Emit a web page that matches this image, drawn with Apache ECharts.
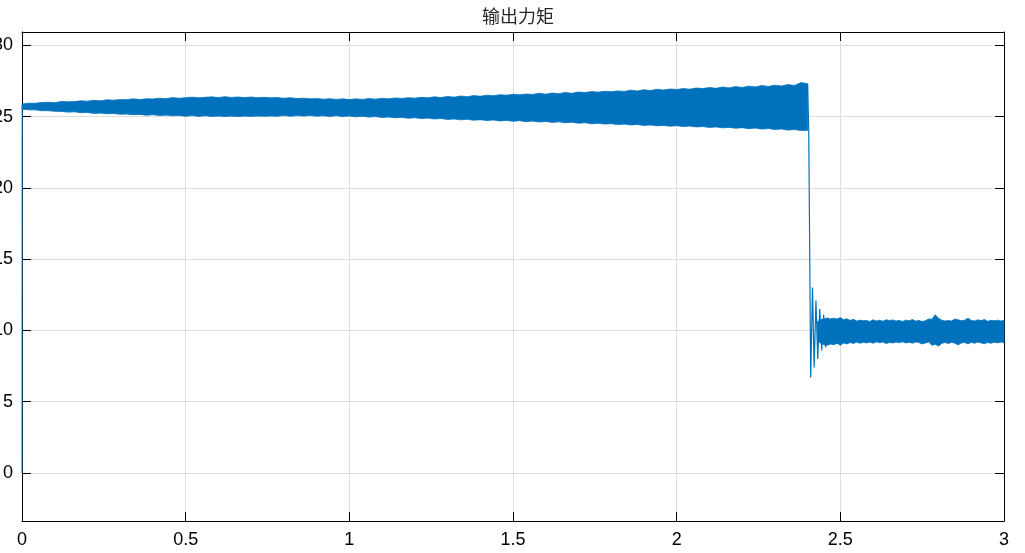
<!DOCTYPE html>
<html><head><meta charset="utf-8">
<script src="https://cdn.jsdelivr.net/npm/echarts@6/dist/echarts.min.js"></script>
<style>html,body{margin:0;padding:0;background:#fff}#c{width:1025px;height:553px}</style>
</head><body><div id="c"></div>
<script>
// ---- data ----
const chartTitle = '输出力矩';
const xMin = 0, xMax = 3, xInterval = 0.5;
const yMin = -3.37, yMax = 30.93;

// start-up transient (t, value)
const startT = [0, 0.0006];
const startV = [0, 25.7];

// band before the load change: envelope sampled every 0.02 s from t = 0
const band1Start = 0, band1Step = 0.02;
const band1Upper = [
  25.88, 25.94, 25.93, 25.99, 26.00, 25.97, 26.06, 26.03, 26.05, 26.10,
  26.08, 26.14, 26.10, 26.17, 26.15, 26.19, 26.18, 26.24, 26.19, 26.25,
  26.23, 26.29, 26.25, 26.33, 26.28, 26.32, 26.36, 26.31, 26.35, 26.38,
  26.33, 26.39, 26.34, 26.37, 26.33, 26.37, 26.32, 26.35, 26.31, 26.33,
  26.28, 26.32, 26.26, 26.29, 26.24, 26.26, 26.22, 26.25, 26.20, 26.24,
  26.19, 26.24, 26.20, 26.26, 26.22, 26.28, 26.24, 26.30, 26.27, 26.32,
  26.29, 26.35, 26.31, 26.38, 26.33, 26.41, 26.36, 26.44, 26.39, 26.47,
  26.42, 26.50, 26.46, 26.53, 26.50, 26.56, 26.52, 26.58, 26.55, 26.63,
  26.57, 26.65, 26.60, 26.69, 26.63, 26.72, 26.68, 26.75, 26.71, 26.77,
  26.74, 26.80, 26.76, 26.85, 26.79, 26.88, 26.82, 26.91, 26.86, 26.93,
  26.90, 26.96, 26.92, 27.00, 26.96, 27.04, 26.98, 27.07, 27.01, 27.10,
  27.04, 27.13, 27.08, 27.17, 27.11, 27.20, 27.14, 27.24, 27.18, 27.38,
  27.30
];
const band1Lower = [
  25.52, 25.47, 25.47, 25.41, 25.41, 25.37, 25.36, 25.31, 25.33, 25.27,
  25.28, 25.22, 25.24, 25.19, 25.21, 25.16, 25.17, 25.13, 25.15, 25.09,
  25.13, 25.07, 25.10, 25.05, 25.08, 25.02, 25.07, 25.01, 25.06, 25.00,
  25.04, 25.01, 25.03, 25.00, 25.03, 25.01, 25.04, 25.02, 25.04, 25.02,
  25.07, 25.02, 25.07, 25.03, 25.08, 25.02, 25.06, 25.01, 25.06, 25.00,
  25.04, 24.98, 25.02, 24.96, 25.00, 24.93, 24.97, 24.91, 24.94, 24.88,
  24.92, 24.86, 24.89, 24.83, 24.86, 24.80, 24.83, 24.77, 24.81, 24.74,
  24.78, 24.72, 24.76, 24.69, 24.73, 24.67, 24.71, 24.64, 24.68, 24.62,
  24.66, 24.59, 24.63, 24.56, 24.60, 24.53, 24.57, 24.49, 24.53, 24.47,
  24.50, 24.44, 24.47, 24.41, 24.44, 24.38, 24.41, 24.35, 24.38, 24.32,
  24.36, 24.30, 24.33, 24.27, 24.30, 24.24, 24.27, 24.21, 24.24, 24.18,
  24.22, 24.15, 24.19, 24.12, 24.16, 24.09, 24.13, 24.05, 24.09, 24.02,
  24.03
];

// load step and damped oscillation (t, value)
const dropT = [2.4000, 2.4035, 2.4095, 2.4150, 2.4200, 2.4255, 2.4310, 2.4370, 2.4430, 2.4490, 2.4550, 2.4610, 2.4670, 2.4730, 2.4800];
const dropV = [27.30, 24.00, 6.70, 13.00, 7.40, 12.10, 8.00, 11.50, 8.60, 11.10, 8.80, 10.90, 9.00, 10.85, 9.00];

// band after the load change: envelope sampled every 0.01 s from t = 2.43
const band2Start = 2.43, band2Step = 0.01;
const band2Upper = [
  10.60, 10.75, 10.80, 10.85, 10.80,
  10.85, 10.80, 10.90, 10.75, 10.82, 10.70, 10.78, 10.65, 10.72, 10.68,
  10.70, 10.62, 10.74, 10.66, 10.71, 10.64, 10.75, 10.69, 10.73, 10.66,
  10.70, 10.63, 10.72, 10.67, 10.76, 10.65, 10.70, 10.62, 10.68, 10.80,
  10.78, 11.10, 10.85, 10.72, 10.66, 10.70, 10.65, 10.80, 10.74, 10.68,
  10.72, 10.85, 10.70, 10.66, 10.74, 10.69, 10.76, 10.64, 10.70, 10.67,
  10.72, 10.66, 10.70
];
const band2Lower = [
  9.30, 9.10, 9.00, 8.95, 9.05,
  9.00, 9.10, 8.95, 9.12, 9.05, 9.15, 9.08, 9.18, 9.10, 9.16,
  9.12, 9.18, 9.10, 9.20, 9.14, 9.19, 9.08, 9.15, 9.12, 9.18,
  9.14, 9.20, 9.12, 9.17, 9.10, 9.19, 9.15, 9.05, 9.12, 9.18,
  8.95, 9.02, 8.90, 9.10, 9.15, 9.08, 9.17, 9.10, 8.98, 9.12,
  9.15, 9.05, 9.16, 9.10, 9.18, 9.12, 9.06, 9.15, 9.10, 9.17,
  9.12, 9.18, 9.15
];

// ---- build ----
const BLUE = '#0072BD';
const tOf = (start, step, n) => Array.from({length: n}, (_, i) => +(start + i * step).toFixed(4));
const t1 = tOf(band1Start, band1Step, band1Upper.length);
const t2 = tOf(band2Start, band2Step, band2Upper.length);

// band drawn as one polygon between lower and upper envelopes, via the axes' scales
function bandSeries(t, lo, up) {
  const n = t.length;
  return {
    type: 'custom',
    data: t.map((x, i) => [x, lo[i], up[i]]),
    encode: { x: 0, y: [1, 2] },
    animation: false,
    z: 3,
    renderItem: function (params, api) {
      if (params.dataIndexInside !== 0) return null;
      const top = [], bot = [];
      for (let j = 0; j < n; j++) {
        const x = api.value(0, j);
        top.push(api.coord([x, api.value(2, j)]));
        bot.push(api.coord([x, api.value(1, j)]));
      }
      const pts = top.concat(bot.reverse());
      return {
        type: 'polygon',
        shape: { points: pts },
        style: { fill: BLUE, stroke: BLUE, lineWidth: 0.8 }
      };
    }
  };
}

const axisCommonLine = { show: true, onZero: false, lineStyle: { color: '#000', width: 1 } };
const tickIn = { show: true, inside: true, length: 9, lineStyle: { color: '#000', width: 1 } };
const labelFont = { fontSize: 18, color: '#000', fontFamily: 'Liberation Sans, Arial, sans-serif' };

const option = {
  animation: false,
  backgroundColor: '#fff',
  title: { text: chartTitle, left: 513, textAlign: 'center', top: 2,
    textStyle: { fontSize: 18, fontWeight: 'normal', color: '#262626', fontFamily: 'Noto Sans CJK SC' } },
  grid: { left: 22, right: 21, top: 32, bottom: 32, containLabel: false, outerBoundsMode: 'none' },
  xAxis: [
    { type: 'value', min: xMin, max: xMax, interval: xInterval, position: 'bottom',
      axisLine: axisCommonLine, axisTick: tickIn,
      axisLabel: Object.assign({ margin: 10 }, labelFont),
      splitLine: { show: true, lineStyle: { color: '#dedede', width: 1 } } },
    { type: 'value', min: xMin, max: xMax, interval: xInterval, position: 'top',
      axisLine: axisCommonLine, axisTick: tickIn, axisLabel: { show: false }, splitLine: { show: false } }
  ],
  yAxis: [
    { type: 'value', min: yMin, max: yMax, splitNumber: 7, position: 'left',
      axisLine: axisCommonLine, axisTick: tickIn,
      axisLabel: Object.assign({ margin: 9, showMinLabel: false, showMaxLabel: false }, labelFont),
      splitLine: { show: true, lineStyle: { color: '#dedede', width: 1 } } },
    { type: 'value', min: yMin, max: yMax, splitNumber: 7, position: 'right',
      axisLine: axisCommonLine, axisTick: tickIn, axisLabel: { show: false }, splitLine: { show: false } }
  ],
  series: [
    { type: 'line', data: startT.map((x, i) => [x, startV[i]]), showSymbol: false, symbol: 'none',
      lineStyle: { color: BLUE, width: 1 }, animation: false, z: 3 },
    bandSeries(t1, band1Lower, band1Upper),
    { type: 'line', data: dropT.map((x, i) => [x, dropV[i]]), showSymbol: false, symbol: 'none',
      lineStyle: { color: BLUE, width: 1.2 }, animation: false, z: 3 },
    bandSeries(t2, band2Lower, band2Upper)
  ]
};

const chart = echarts.init(document.getElementById('c'), null, { renderer: 'canvas' });
chart.setOption(option);
</script>
</body></html>
